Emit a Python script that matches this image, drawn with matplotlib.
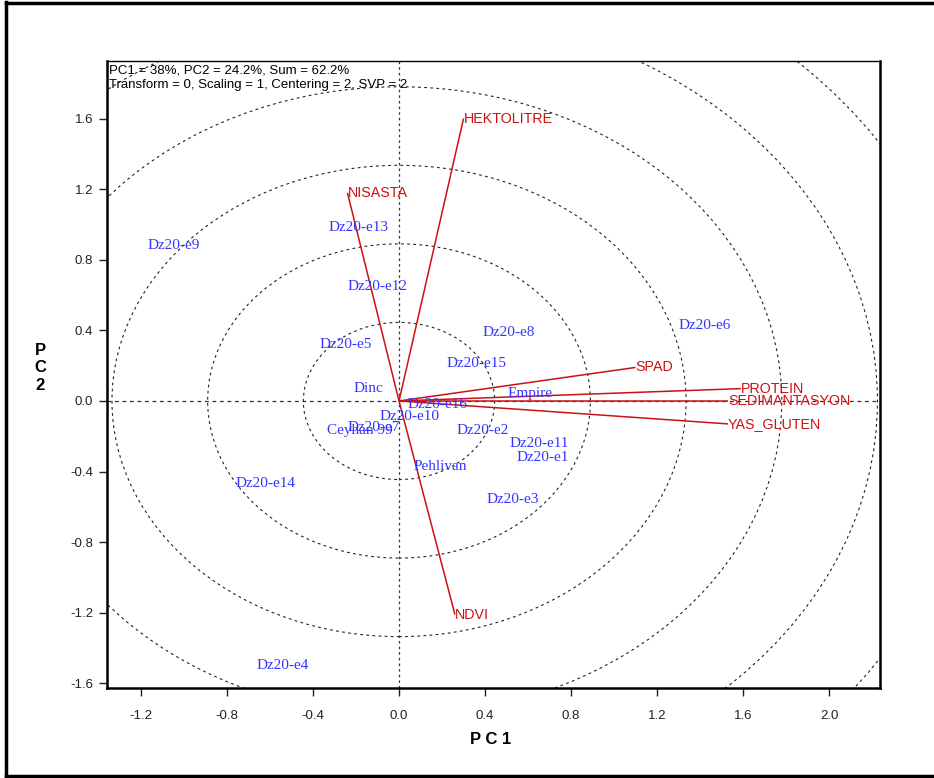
import matplotlib
matplotlib.use('Agg')
import matplotlib.pyplot as plt
from matplotlib.patches import Circle
from matplotlib.lines import Line2D

# genotype scores (blue labels)
GENOTYPES = ['Dz20-e9', 'Dz20-e13', 'Dz20-e12', 'Dz20-e5', 'Dz20-e8', 'Dz20-e6',
             'Dz20-e15', 'Dinc', 'Empire', 'Dz20-e16', 'Dz20-e10', 'Dz20-e7',
             'Ceyhan 99', 'Dz20-e2', 'Dz20-e11', 'Dz20-e1', 'Pehlivan', 'Dz20-e14',
             'Dz20-e3', 'Dz20-e4']
G_PC1 = [-1.05, -0.19, -0.10, -0.25, 0.51, 1.42, 0.36, -0.14, 0.61, 0.18, 0.05, -0.12,
         -0.18, 0.39, 0.65, 0.67, 0.19, -0.62, 0.53, -0.54]
G_PC2 = [0.88, 0.98, 0.65, 0.32, 0.39, 0.43, 0.21, 0.07, 0.04, -0.02, -0.09, -0.15,
         -0.17, -0.17, -0.24, -0.32, -0.37, -0.47, -0.56, -1.50]

# trait vectors (red)
TRAITS = ['HEKTOLITRE', 'NISASTA', 'SPAD', 'PROTEIN', 'SEDIMANTASYON', 'YAS_GLUTEN', 'NDVI']
T_PC1 = [0.30, -0.24, 1.10, 1.59, 1.53, 1.53, 0.26]
T_PC2 = [1.60, 1.18, 0.19, 0.07, 0.00, -0.13, -1.21]

RADII = [0.445, 0.89, 1.335, 1.78, 2.225, 2.67]
XTICKS = [-1.2, -0.8, -0.4, 0.0, 0.4, 0.8, 1.2, 1.6, 2.0]
YTICKS = [-1.6, -1.2, -0.8, -0.4, 0.0, 0.4, 0.8, 1.2, 1.6]

C_BLUE = '#3434ff'
C_RED = '#cc1111'

plt.rcParams['font.family'] = ['Liberation Sans', 'DejaVu Sans']

fig = plt.figure(figsize=(9.34, 7.78), dpi=100)
ax = fig.add_axes([0.1146, 0.1157, 0.8276, 0.8059])
ax.set_xlim(-1.358, 2.237)
ax.set_ylim(-1.626, 1.926)

# concentric circles
for r in RADII:
    ax.add_patch(Circle((0, 0), r, fill=False, ls=(0, (2.5, 3)), lw=0.8, color='#222'))
ax.axhline(0, color='#333', lw=0.9, ls=(0, (3, 3)))
ax.axvline(0, color='#333', lw=0.9, ls=(0, (2, 2.5)))

# trait vectors
for name, x, y in zip(TRAITS, T_PC1, T_PC2):
    ax.plot([0, x], [0, y], color=C_RED, lw=1.1, solid_capstyle='butt')
    ax.text(x, y, name, color=C_RED, fontsize=10.3, ha='left', va='center')

# genotype labels
for name, x, y in zip(GENOTYPES, G_PC1, G_PC2):
    ax.text(x, y, name, color=C_BLUE, fontsize=11, ha='center', va='center',
            family=['Liberation Serif', 'DejaVu Serif'])

ax.text(0.003, 0.995, 'PC1 = 38%, PC2 = 24.2%, Sum = 62.2%\n'
        'Transform = 0, Scaling = 1, Centering = 2, SVP = 2',
        transform=ax.transAxes, fontsize=9.5, ha='left', va='top', linespacing=1.3)

ax.set_xticks(XTICKS)
ax.set_yticks(YTICKS)
ax.set_xticklabels([f'{v:.1f}' for v in XTICKS])
ax.set_yticklabels([f'{v:.1f}' for v in YTICKS])
ax.tick_params(direction='out', length=6, width=1, labelsize=9.5, colors='#222')
ax.tick_params(axis='x', pad=10)
ax.tick_params(axis='y', pad=4)
for s in ax.spines.values():
    s.set_linewidth(1.8)
ax.spines['top'].set_linewidth(1.0)

fig.text(0.525, 0.049, 'P C 1', fontsize=12, fontweight='bold', ha='center', va='center')
fig.text(0.043, 0.527, 'P\nC\n2', fontsize=12, fontweight='bold', ha='center', va='center',
         linespacing=1.2)

# outer frame
for xs, ys in [([6, 940], [2.5, 2.5]), ([6, 6], [2, 776]), ([6, 940], [775.5, 775.5])]:
    fig.add_artist(Line2D([x / 934 for x in xs], [1 - y / 778 for y in ys],
                          color='black', lw=2.5, transform=fig.transFigure))

fig.savefig('out.png', dpi=100, facecolor='white')
